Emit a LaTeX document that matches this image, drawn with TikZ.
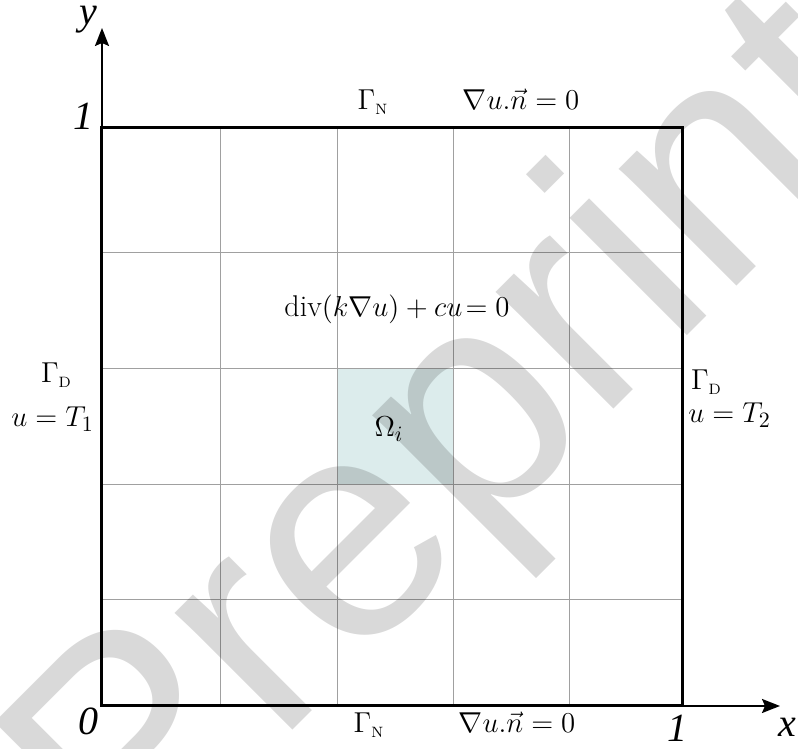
\documentclass[tikz,border=0pt]{standalone}
\usepackage{amsmath,amssymb}
\usepackage{fontspec}
\usepackage{xcolor}
\usepackage{tikz}
\usetikzlibrary{arrows.meta}
\newfontfamily\axisfont{Liberation Serif}
\newfontfamily\markfont{Liberation Sans}
\definecolor{gridgray}{RGB}{160,160,160}
\definecolor{cellteal}{RGB}{220,236,236}
\newcommand{\gammaN}{\Gamma_{\scriptscriptstyle\mathrm{N}}}
\newcommand{\gammaD}{\Gamma_{\scriptscriptstyle\mathrm{D}}}
\tikzset{
  lbl/.style={anchor=base, inner sep=0pt, font=\fontsize{15}{18}\selectfont},
  axlbl/.style={anchor=base, inner sep=0pt, font=\fontsize{20}{24}\selectfont\axisfont\itshape},
  axis/.style={-{Stealth[length=9pt,width=7pt,inset=1.5pt]}, line width=1pt},
  gridline/.style={draw=gridgray, line width=0.5pt},
}
\begin{document}
\begin{tikzpicture}[x=0.5pt,y=0.5pt]
    \useasboundingbox (-102,-43) rectangle (696,706);
    % highlighted cell
    \fill[cellteal] (235,221) rectangle (351,337);
    % grid
    \foreach \gx in {118,235,351,467} \draw[gridline] (\gx,0) -- (\gx,578);
    \foreach \gy in {106,221,337,453} \draw[gridline] (0,\gy) -- (580,\gy);
    % axes + domain
    \coordinate (o) at (0,0);
    \coordinate (xend) at (678,0);
    \coordinate (yend) at (0,678);
    \draw[axis] (o) -- (xend);
    \draw[axis] (o) -- (yend);
    \draw[line width=1.5pt] (0,0) rectangle (580,578);
    % axis labels
    \node[axlbl] (xlab) at (685.5,-31) {x};
    \node[axlbl] (ylab) at (-13.5,681) {y};
    \node[axlbl] (orig) at (-13.5,-29) {0};
    \node[axlbl] (xone) at (575.5,-36) {1};
    \node[axlbl] (yone) at (-18.5,576) {1};
    % boundary conditions
    \node[lbl] (gtop) at (271,596) {$\gammaN$};
    \node[lbl] (ntop) at (419,596) {$\nabla u.\vec{n}=0$};
    \node[lbl] (gbot) at (267,-27) {$\gammaN$};
    \node[lbl] (nbot) at (415,-27) {$\nabla u.\vec{n}=0$};
    \node[lbl] (gleft) at (-45.5,323) {$\gammaD$};
    \node[lbl] (bcleft) at (-49.5,279) {$u=T_1$};
    \node[lbl] (gright) at (604.5,316) {$\gammaD$};
    \node[lbl] (bcright) at (627.5,283) {$u=T_2$};
    % equation + cell
    \node[lbl] (pde) at (295,389) {$\mathrm{div}(k\nabla u)+cu\!=0$};
    \node[lbl] (cell) at (287,269) {$\Omega_i$};
    % watermark
    \node[anchor=base, rotate=45, inner sep=0pt, opacity=0.15, font=\fontsize{157}{157}\selectfont\markfont] (wmark) at (416.5,201.5) {Preprint};
  \end{tikzpicture}
\end{document}
